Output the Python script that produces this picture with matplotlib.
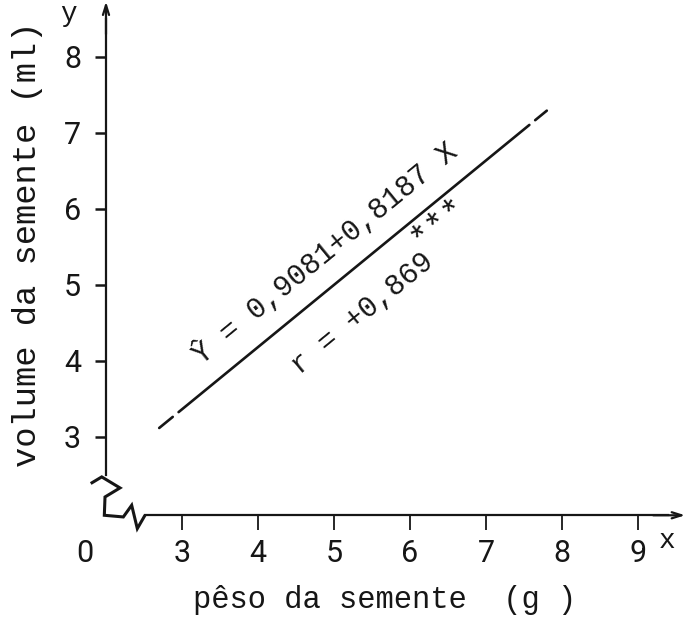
import numpy as np
import matplotlib.pyplot as plt

# Regression of seed volume on seed weight
intercept = 0.9081
slope = 0.8187
r_value = 0.869
x_fit = [2.7, 7.8]          # range covered by the fitted line (g)

x_ticks = [3, 4, 5, 6, 7, 8, 9]
y_ticks = [3, 4, 5, 6, 7, 8]
x_label = "pêso da semente  (g )"
y_label = "volume da semente (ml)"

plt.rcParams['font.family'] = ['Liberation Mono', 'DejaVu Sans Mono']
ink = '#161616'
digit_font = ['Roboto', 'DejaVu Sans']

fig = plt.figure(figsize=(6.97, 6.25), dpi=100)
ax = fig.add_axes([0, 0, 1, 1])
ax.set_xlim(0.6053, 9.7763)
ax.set_ylim(0.5263, 8.75)
ax.patch.set_alpha(0)

# broken axes: origin drawn at (2, 2) with the "0" label beside it
x0, y0 = 2.0, 1.97
for s in ('top', 'right'):
    ax.spines[s].set_visible(False)
ax.spines['left'].set_position(('data', x0))
ax.spines['bottom'].set_position(('data', y0))
ax.spines['left'].set_bounds(2.5, 8.5)
ax.spines['bottom'].set_bounds(2.51, 9.4)
for s in ('left', 'bottom'):
    ax.spines[s].set_linewidth(1.6)
    ax.spines[s].set_color(ink)

# axis arrows
ax.annotate('', xy=(x0, 8.73), xytext=(x0, 8.3),
            arrowprops=dict(arrowstyle='->,head_length=0.7,head_width=0.22',
                            lw=1.6, color=ink, shrinkA=0, shrinkB=0))
ax.annotate('', xy=(9.62, y0), xytext=(9.2, y0),
            arrowprops=dict(arrowstyle='->,head_length=0.7,head_width=0.22',
                            lw=1.6, color=ink, shrinkA=0, shrinkB=0))

# zigzag break mark at the corner
brk = np.array([(-0.201, 0.418), (-0.056, 0.505), (0.184, 0.360),
                (-0.013, 0.241), (-0.022, 0.0), (0.228, -0.022),
                (0.338, 0.132), (0.412, -0.175), (0.513, 0.0)])
ax.plot(x0 + brk[:, 0], y0 + brk[:, 1], color=ink, lw=2.2,
        solid_joinstyle='miter', solid_capstyle='butt')

ax.set_xticks(x_ticks)
ax.set_yticks(y_ticks)
ax.set_xticklabels([str(v) for v in x_ticks])
ax.set_yticklabels([str(v) for v in y_ticks])
ax.tick_params(axis='y', direction='out', length=8, width=1.8, pad=10,
               labelsize=22, colors=ink)
ax.tick_params(axis='x', direction='out', length=11, width=1.3, pad=6,
               labelsize=22, colors=ink)
for lab in ax.get_xticklabels() + ax.get_yticklabels():
    lab.set_fontfamily(digit_font)

ax.text(1.72, 1.47, '0', ha='center', va='center', fontsize=22,
        family=digit_font, color=ink)
ax.text(1.50, 8.57, 'y', ha='center', va='center', fontsize=20, color=ink)
ax.text(9.38, 1.63, 'x', ha='center', va='center', fontsize=20, color=ink)

ax.text(5.66, 0.86, x_label, ha='center', va='center', fontsize=22, color=ink)
ax.text(0.97, 5.53, y_label, ha='center', va='center', fontsize=24.3,
        rotation=90, color=ink)

# fitted line, with short detached dashes at both ends
def fit(x):
    return intercept + slope * np.asarray(x)

xa, xb = x_fit
span = xb - xa
segments = [(xa, xa + 0.035 * span),
            (xa + 0.05 * span, xb - 0.045 * span),
            (xb - 0.03 * span, xb)]
for s0, s1 in segments:
    xs = np.array([s0, s1])
    ax.plot(xs, fit(xs), color=ink, lw=1.9, solid_capstyle='round')

angle = ax.transData.transform_angles(np.array([np.degrees(np.arctan(slope))]),
                                      np.array([[5.0, fit(5.0)]]))[0]

eq_text = f"Ŷ = {intercept:.4f}+{slope:.4f} X".replace('.', ',')
ax.text(4.88, 5.42, eq_text, ha='center', va='center', rotation=angle,
        rotation_mode='anchor', fontsize=21, color=ink)

r_text = f"r = +{r_value:.3f}".replace('.', ',')
ax.text(5.37, 4.62, r_text, ha='center', va='center', rotation=angle,
        rotation_mode='anchor', fontsize=21, color=ink)
ax.text(6.38, 5.82, '***', ha='center', va='center', rotation=angle,
        rotation_mode='anchor', fontsize=25, color=ink)

fig.savefig('out.png', dpi=100, facecolor='white')
